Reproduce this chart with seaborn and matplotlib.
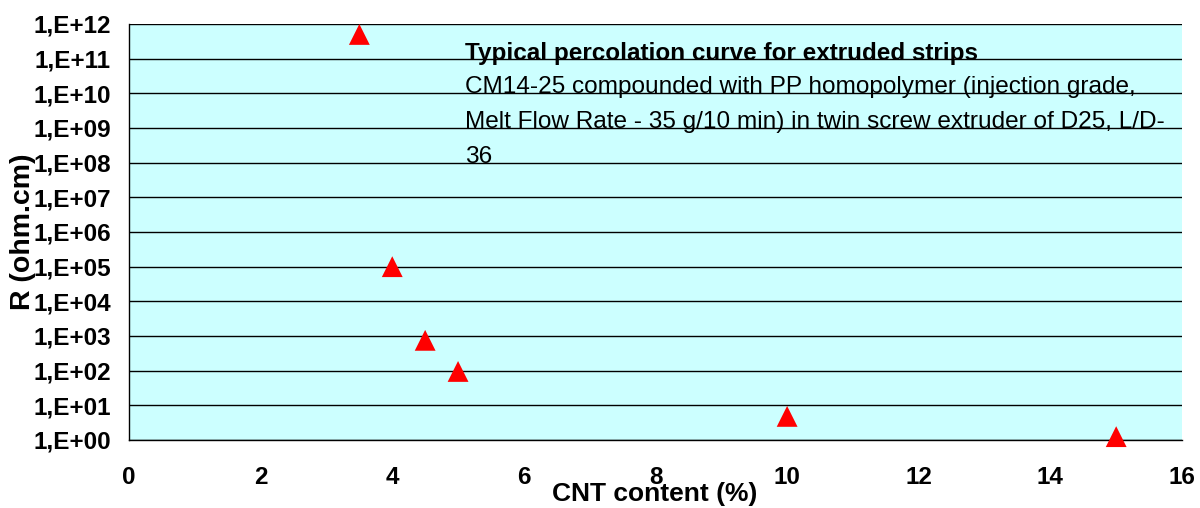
import matplotlib
matplotlib.use("Agg")
import matplotlib.pyplot as plt
import seaborn as sns
import pandas as pd
from matplotlib.ticker import FixedLocator, FixedFormatter, NullLocator

cnt_content = [3.5, 4.0, 4.5, 5.0, 10.0, 15.0]
resistivity = [5.0e11, 1.0e5, 7.5e2, 9.5e1, 4.8, 1.25]
y_ticks = [10.0 ** k for k in range(0, 13)]
y_tick_labels = ["1,E+%02d" % k for k in range(0, 13)]
x_ticks = [0, 2, 4, 6, 8, 10, 12, 14, 16]

title_text = "Typical percolation curve for extruded strips"
body_lines = [
    "CM14-25 compounded with PP homopolymer (injection grade,",
    "Melt Flow Rate - 35 g/10 min) in twin screw extruder of D25, L/D-",
    "36",
]

sns.set_style("white")
plt.rcParams["font.family"] = ["Liberation Sans", "DejaVu Sans"]
plt.rcParams["text.color"] = "black"
plt.rcParams["axes.labelcolor"] = "black"
plt.rcParams["xtick.color"] = "black"
plt.rcParams["ytick.color"] = "black"

df = pd.DataFrame({"cnt": cnt_content, "R": resistivity})

fig = plt.figure(figsize=(12, 5.08), dpi=100)
ax = fig.add_axes([129 / 1200, 68 / 508, 1053 / 1200, 416 / 508])
ax.set_facecolor("#CCFFFF")

ax.set_yscale("log")
ax.set_xlim(0, 16)
ax.set_ylim(1, 1e12)

for yv in y_ticks:
    ax.axhline(yv, color="#000000", lw=1.0, zorder=1)

sns.scatterplot(data=df, x="cnt", y="R", marker="^", s=225, color="#FF0000",
                edgecolor="none", linewidth=0, ax=ax, zorder=5, clip_on=False)

ax.yaxis.set_major_locator(FixedLocator(y_ticks))
ax.yaxis.set_major_formatter(FixedFormatter(y_tick_labels))
ax.yaxis.set_minor_locator(NullLocator())
ax.xaxis.set_major_locator(FixedLocator(x_ticks))

for s in ["top", "right"]:
    ax.spines[s].set_visible(False)
for s in ["left", "bottom"]:
    ax.spines[s].set_color("black")
    ax.spines[s].set_linewidth(1.0)

ax.tick_params(axis="both", which="major", direction="out", length=5, width=1,
               color="black", labelcolor="black", labelsize=17.5)
ax.tick_params(axis="y", pad=8)
ax.tick_params(axis="x", pad=14)
for lab in ax.get_xticklabels() + ax.get_yticklabels():
    lab.set_fontweight("bold")

ax.set_xlabel("CNT content (%)", fontsize=19, fontweight="bold")
ax.xaxis.set_label_coords((655 - 129) / 1053, -(482 - 440) / 416)
ax.set_ylabel("R (ohm.cm)", fontsize=20.5, fontweight="bold")
ax.yaxis.set_label_coords(-(129 - 36) / 1053, 0.5)

x0 = (465 - 129) / 1053
ax.text(x0, (440 - 60) / 416, title_text, transform=ax.transAxes, fontsize=17.5,
        fontweight="bold", va="baseline", ha="left", zorder=6)
for i, line in enumerate(body_lines):
    yb = 93.5 + i * 34.67
    ax.text(x0, (440 - yb) / 416, line, transform=ax.transAxes, fontsize=17.6,
            va="baseline", ha="left", zorder=6)

fig.savefig("out.png", dpi=100, facecolor="white")
